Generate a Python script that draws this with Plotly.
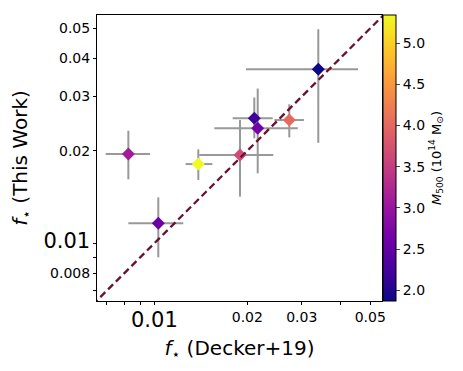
import numpy as np
import plotly.graph_objects as go

# stellar fraction, Decker+19 (x) vs this work (y), with asymmetric errors
f_decker = [0.00824, 0.01388, 0.01030, 0.01894, 0.02107, 0.02161, 0.02735, 0.03395]
f_decker_lo = [0.00696, 0.01263, 0.00824, 0.01398, 0.01793, 0.01564, 0.02446, 0.01980]
f_decker_hi = [0.00969, 0.01541, 0.01241, 0.02427, 0.02417, 0.02914, 0.03053, 0.04566]

f_this = [0.01950, 0.01810, 0.01162, 0.01937, 0.02549, 0.02365, 0.02517, 0.03680]
f_this_lo = [0.01614, 0.01606, 0.00901, 0.01419, 0.02195, 0.01689, 0.02210, 0.02122]
f_this_hi = [0.02323, 0.02021, 0.01411, 0.02517, 0.02979, 0.03186, 0.02833, 0.04965]

m500 = [3.08, 5.34, 2.56, 3.67, 2.20, 2.63, 4.02, 1.87]

x_ticks = [0.007, 0.008, 0.009, 0.01, 0.02, 0.03, 0.04, 0.05]
x_ticklabels = ["", "", "", "", "0.02", "0.03", "", "0.05"]
x_major = 0.01  # decade label, drawn larger
y_ticks = [0.007, 0.008, 0.009, 0.01, 0.02, 0.03, 0.04, 0.05]
y_ticklabels = ["", "0.008", "", "0.01", "0.02", "0.03", "0.04", "0.05"]
cbar_ticks = [2.0, 2.5, 3.0, 3.5, 4.0, 4.5, 5.0]

FONT = "DejaVu Sans"
big = lambda s: f"<span style='font-size:21px'>{s}</span>" if s == "0.01" else s

x = np.array(f_decker)
y = np.array(f_this)

fig = go.Figure()

fig.add_trace(
    go.Scatter(
        x=x,
        y=y,
        mode="markers",
        error_x=dict(
            type="data",
            symmetric=False,
            array=np.array(f_decker_hi) - x,
            arrayminus=x - np.array(f_decker_lo),
            color="#999999",
            thickness=2,
            width=0,
        ),
        error_y=dict(
            type="data",
            symmetric=False,
            array=np.array(f_this_hi) - y,
            arrayminus=y - np.array(f_this_lo),
            color="#999999",
            thickness=2,
            width=0,
        ),
        marker=dict(
            symbol="diamond",
            size=10,
            color=m500,
            colorscale="Plasma",
            cmin=min(m500),
            cmax=max(m500),
            line=dict(width=0),
            colorbar=dict(
                x=1.004,
                xanchor="left",
                xpad=0,
                ypad=0,
                y=0.5,
                len=1,
                thickness=13,
                outlinewidth=1,
                outlinecolor="black",
                tickvals=cbar_ticks,
                tickformat=".1f",
                ticks="outside",
                ticklen=4,
                tickfont=dict(size=14, family=FONT, color="black"),
                title=dict(
                    text="<i>M</i><sub>500</sub> (10<sup>14</sup> M<sub>⊙</sub>)",
                    side="right",
                    font=dict(size=13, family=FONT, color="black"),
                ),
            ),
        ),
        showlegend=False,
    )
)

# one-to-one line
fig.add_trace(
    go.Scatter(
        x=[0.005, 0.07],
        y=[0.005, 0.07],
        mode="lines",
        line=dict(color="#6b0f2e", width=2.3, dash="7px,4px"),
        showlegend=False,
        hoverinfo="skip",
    )
)

axis_common = dict(
    type="log",
    automargin=False,
    showgrid=False,
    zeroline=False,
    showline=True,
    mirror=True,
    linecolor="black",
    linewidth=1,
    ticks="outside",
    ticklen=3,
    tickcolor="black",
    tickmode="array",
    tickfont=dict(size=14, family=FONT, color="black"),
)

fig.update_xaxes(
    **axis_common,
    range=[np.log10(0.006523), np.log10(0.05458)],
    tickvals=x_ticks,
    ticktext=x_ticklabels,
    title=dict(
        text="<i>f</i><sub>⋆</sub> (Decker+19)",
        font=dict(size=20, family=FONT, color="black"),
        standoff=17,
    ),
)
fig.update_yaxes(
    **axis_common,
    range=[np.log10(0.006494), np.log10(0.05525)],
    tickvals=y_ticks,
    ticktext=[big(t) for t in y_ticklabels],
    title=dict(
        text="<i>f</i><sub>⋆</sub> (This Work)",
        font=dict(size=20, family=FONT, color="black"),
        standoff=12,
    ),
)

# big decade label on the x axis, top-aligned like the small ones
fig.add_annotation(
    x=np.log10(x_major),
    y=0,
    xref="x",
    yref="paper",
    text="0.01",
    showarrow=False,
    yanchor="top",
    yshift=-5,
    font=dict(size=21, family=FONT, color="black"),
)

# page body has an 8px default margin, so the figure is sized to fit inside it
fig.update_layout(
    width=447,
    height=355,
    margin=dict(l=89, r=73, t=7, b=62),
    plot_bgcolor="white",
    paper_bgcolor="white",
    font=dict(family=FONT, color="black"),
)

fig.write_html("out.html")
